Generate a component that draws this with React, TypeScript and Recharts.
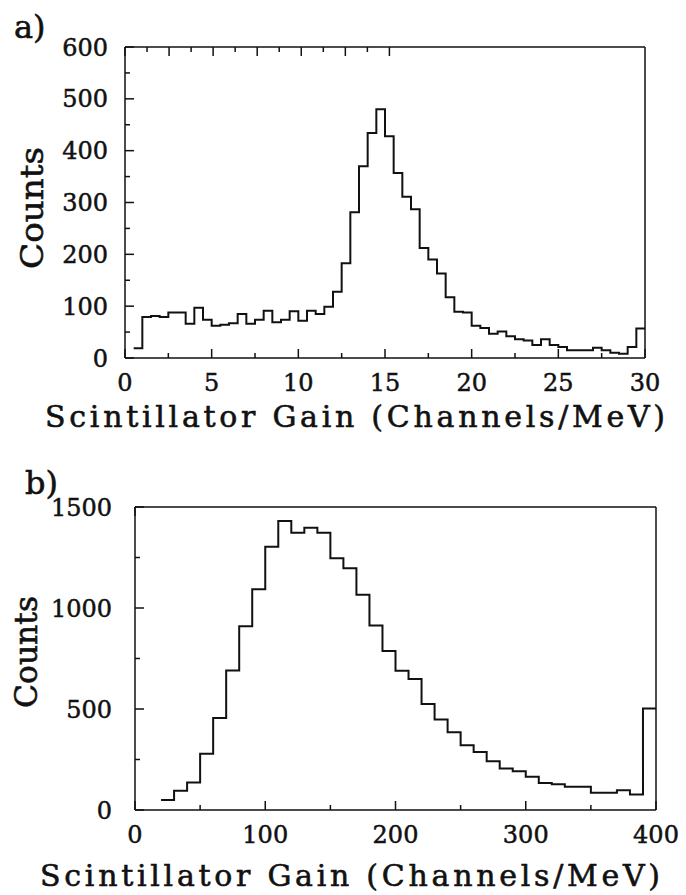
import React from 'react';
import { LineChart, Line, XAxis, YAxis } from 'recharts';

const FONT = '"DejaVu Serif", serif';
const INK = '#111';

// panel a) : lower edge of each 0.5 wide bin, counts in that bin
const gainA = [
  0.5, 1, 1.5, 2, 2.5, 3, 3.5, 4, 4.5, 5, 5.5, 6, 6.5, 7, 7.5, 8, 8.5, 9, 9.5, 10,
  10.5, 11, 11.5, 12, 12.5, 13, 13.5, 14, 14.5, 15, 15.5, 16, 16.5, 17, 17.5, 18, 18.5, 19, 19.5, 20,
  20.5, 21, 21.5, 22, 22.5, 23, 23.5, 24, 24.5, 25, 25.5, 26, 26.5, 27, 27.5, 28, 28.5, 29, 29.5,
];
const countsA = [
  19, 79, 81, 79, 88, 88, 66, 97, 74, 62, 64, 67, 85, 66, 74, 91, 69, 74, 90, 72,
  91, 85, 99, 128, 183, 281, 370, 434, 480, 428, 357, 311, 287, 212, 190, 163, 117, 89, 88, 62,
  58, 47, 51, 42, 36, 34, 25, 36, 25, 21, 15, 15, 15, 20, 15, 10, 8, 21, 57,
];
const lastEdgeA = 30;
const xTicksA = [0, 2.5, 5, 7.5, 10, 12.5, 15, 17.5, 20, 22.5, 25, 27.5, 30];
const xLabelsA = [0, 5, 10, 15, 20, 25, 30];
const yTicksA = [0, 50, 100, 150, 200, 250, 300, 350, 400, 450, 500, 550, 600];
const yLabelsA = [0, 100, 200, 300, 400, 500, 600];

// panel b) : lower edge of each 10 wide bin
const gainB = [
  20, 30, 40, 50, 60, 70, 80, 90, 100, 110, 120, 130, 140, 150, 160, 170, 180, 190, 200,
  210, 220, 230, 240, 250, 260, 270, 280, 290, 300, 310, 320, 330, 340, 350, 360, 370, 380, 390,
];
const countsB = [
  50, 95, 136, 279, 456, 690, 910, 1093, 1303, 1431, 1372, 1397, 1372, 1246, 1197, 1066, 913, 787, 689,
  648, 525, 448, 385, 320, 287, 241, 205, 192, 164, 134, 128, 115, 115, 85, 85, 98, 77, 503,
];
const lastEdgeB = 400;
const xTicksB = [0, 50, 100, 150, 200, 250, 300, 350, 400];
const xLabelsB = [0, 100, 200, 300, 400];
const yTicksB = [0, 250, 500, 750, 1000, 1250, 1500];
const yLabelsB = [0, 500, 1000, 1500];

const toSteps = (edges: number[], counts: number[], lastEdge: number) => {
  const rows = edges.map((g, i) => ({ gain: g, count: counts[i] }));
  rows.push({ gain: lastEdge, count: counts[counts.length - 1] });
  return rows;
};

const dataA = toSteps(gainA, countsA, lastEdgeA);
const dataB = toSteps(gainB, countsB, lastEdgeB);

function Tick(props: any) {
  const { x, y, payload, side, labels, gap } = props;
  const v = payload.value;
  const major = labels.includes(v);
  const len = major ? 9 : 5;
  let line;
  if (side === 'bottom') line = <line x1={x} y1={y} x2={x} y2={y - len} />;
  else if (side === 'top') line = <line x1={x} y1={y} x2={x} y2={y + len} />;
  else if (side === 'left') line = <line x1={x} y1={y} x2={x + len} y2={y} />;
  else line = <line x1={x} y1={y} x2={x - len} y2={y} />;
  let label = null;
  if (major && side === 'bottom') {
    label = (
      <text x={x} y={y + gap} textAnchor="middle" fontFamily={FONT} fontSize={24} fill={INK} stroke={INK} strokeWidth={0.5}>
        {v}
      </text>
    );
  }
  if (major && side === 'left') {
    label = (
      <text x={x - gap} y={y} dy="0.36em" textAnchor="end" fontFamily={FONT} fontSize={24} fill={INK} stroke={INK} strokeWidth={0.5}>
        {v}
      </text>
    );
  }
  return (
    <g stroke={INK} strokeWidth={1.5}>
      {line}
      {label}
    </g>
  );
}

// axes are 1px thick bands (0 would not be drawn), margins take the rest
function Panel({ data, xMax, yMax, xTicks, xLabels, yTicks, yLabels, width, height, margin, yGap }: any) {
  const axisLine = { stroke: INK, strokeWidth: 1.5 };
  return (
    <LineChart width={width} height={height} data={data} margin={margin}>
      <XAxis
        dataKey="gain"
        type="number"
        domain={[0, xMax]}
        ticks={xTicks}
        interval={0}
        height={1}
        tickSize={0}
        tickMargin={0}
        tickLine={false}
        axisLine={axisLine}
        allowDataOverflow
        tick={(p: any) => <Tick {...p} side="bottom" labels={xLabels} gap={33} />}
      />
      <XAxis
        xAxisId="top"
        orientation="top"
        type="number"
        domain={[0, xMax]}
        ticks={xTicks}
        interval={0}
        height={1}
        tickSize={0}
        tickMargin={0}
        tickLine={false}
        axisLine={axisLine}
        tick={(p: any) => <Tick {...p} side="top" labels={xLabels} />}
      />
      <YAxis
        type="number"
        domain={[0, yMax]}
        ticks={yTicks}
        interval={0}
        width={1}
        tickSize={0}
        tickMargin={0}
        tickLine={false}
        axisLine={axisLine}
        allowDataOverflow
        tick={(p: any) => <Tick {...p} side="left" labels={yLabels} gap={yGap} />}
      />
      <YAxis
        yAxisId="right"
        orientation="right"
        type="number"
        domain={[0, yMax]}
        ticks={yTicks}
        interval={0}
        width={1}
        tickSize={0}
        tickMargin={0}
        tickLine={false}
        axisLine={axisLine}
        tick={(p: any) => <Tick {...p} side="right" labels={yLabels} />}
      />
      <Line
        type="stepAfter"
        dataKey="count"
        stroke={INK}
        strokeWidth={2}
        dot={false}
        activeDot={false}
        isAnimationActive={false}
      />
    </LineChart>
  );
}

export default function App() {
  const textStyle = { fontFamily: FONT, fill: INK, stroke: INK, strokeWidth: 0.6 };
  return (
    <div style={{ position: 'absolute', left: 0, top: 0, width: 686, height: 895, background: '#fff' }}>
      <div style={{ position: 'absolute', left: 0, top: 0 }}>
        <Panel
          data={dataA}
          xMax={30}
          yMax={600}
          xTicks={xTicksA}
          xLabels={xLabelsA}
          yTicks={yTicksA}
          yLabels={yLabelsA}
          width={686}
          height={450}
          margin={{ top: 46, right: 40, left: 124, bottom: 91 }}
          yGap={17}
        />
      </div>
      <div style={{ position: 'absolute', left: 0, top: 460 }}>
        <Panel
          data={dataB}
          xMax={400}
          yMax={1500}
          xTicks={xTicksB}
          xLabels={xLabelsB}
          yTicks={yTicksB}
          yLabels={yLabelsB}
          width={686}
          height={435}
          margin={{ top: 46, right: 29, left: 134, bottom: 84 }}
          yGap={23}
        />
      </div>
      <svg width={686} height={895} style={{ position: 'absolute', left: 0, top: 0, pointerEvents: 'none' }}>
        <text x={14} y={38} fontSize={32} style={textStyle}>a)</text>
        <text x={25} y={494} fontSize={32} style={textStyle}>b)</text>
        <text transform="translate(43,208) rotate(-90)" textAnchor="middle" fontSize={32} textLength={122} lengthAdjust="spacingAndGlyphs" style={textStyle}>
          Counts
        </text>
        <text transform="translate(37,652) rotate(-90)" textAnchor="middle" fontSize={32} textLength={112} lengthAdjust="spacingAndGlyphs" style={textStyle}>
          Counts
        </text>
        <text x={355} y={427} textAnchor="middle" fontSize={30} textLength={620} lengthAdjust="spacing" style={textStyle}>
          Scintillator Gain (Channels/MeV)
        </text>
        <text x={350} y={886} textAnchor="middle" fontSize={30} textLength={620} lengthAdjust="spacing" style={textStyle}>
          Scintillator Gain (Channels/MeV)
        </text>
      </svg>
    </div>
  );
}
